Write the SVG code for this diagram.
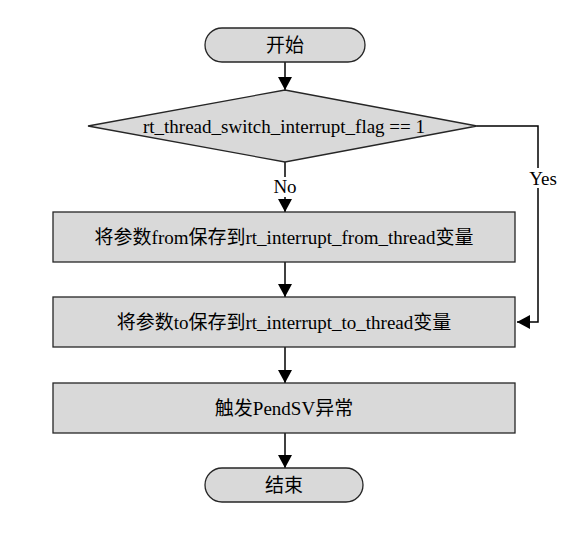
<svg xmlns="http://www.w3.org/2000/svg" width="583" height="546" viewBox="0 0 583 546">
<style>
.n{fill:#d9d9d9;stroke:#262626;stroke-width:1.3}
.t{font-family:"Liberation Serif","Noto Sans CJK SC",serif;font-size:19px;fill:#000;text-anchor:middle}
.c{fill:none;stroke:#000;stroke-width:1.5}
.lb{font-family:"Liberation Serif",serif;font-size:19px;fill:#000;text-anchor:middle}
</style>
<defs>
<marker id="ah" markerWidth="13" markerHeight="14" refX="13" refY="7" orient="auto" markerUnits="userSpaceOnUse">
<path d="M0,0 L13,7 L0,14 Z" fill="#000"/>
</marker>
</defs>
<rect width="583" height="546" fill="#fff"/>
<g id="connectors">
<line class="c" x1="285" y1="62" x2="285" y2="90" marker-end="url(#ah)"/>
<line class="c" x1="285" y1="162" x2="285" y2="212" marker-end="url(#ah)"/>
<polyline class="c" points="477,126 538,126 538,322 517,322" marker-end="url(#ah)"/>
<line class="c" x1="285" y1="262" x2="285" y2="297" marker-end="url(#ah)"/>
<line class="c" x1="285" y1="347" x2="285" y2="383" marker-end="url(#ah)"/>
<line class="c" x1="285" y1="433" x2="285" y2="468" marker-end="url(#ah)"/>
<rect x="270" y="177" width="30" height="20" fill="#fff"/>
<text class="lb" x="285" y="193">No</text>
<rect x="525" y="168" width="36" height="20" fill="#fff"/>
<text class="lb" x="543" y="185">Yes</text>
</g>
<g id="start">
<rect class="n" x="205" y="28" width="160" height="34" rx="17"/>
<text class="t" x="285" y="52">开始</text>
</g>
<g id="decision">
<polygon class="n" points="88,126 285,90 477,126 285,162"/>
<text class="t" x="284" y="133">rt_thread_switch_interrupt_flag == 1</text>
</g>
<g id="save-from">
<rect class="n" x="53" y="212" width="462" height="50"/>
<text class="t" x="284" y="244">将参数from保存到rt_interrupt_from_thread变量</text>
</g>
<g id="save-to">
<rect class="n" x="53" y="297" width="462" height="50"/>
<text class="t" x="284" y="329">将参数to保存到rt_interrupt_to_thread变量</text>
</g>
<g id="pendsv">
<rect class="n" x="53" y="383" width="462" height="50"/>
<text class="t" x="284" y="415">触发PendSV异常</text>
</g>
<g id="end">
<rect class="n" x="205" y="468" width="158" height="34" rx="17"/>
<text class="t" x="284" y="492">结束</text>
</g>
</svg>
